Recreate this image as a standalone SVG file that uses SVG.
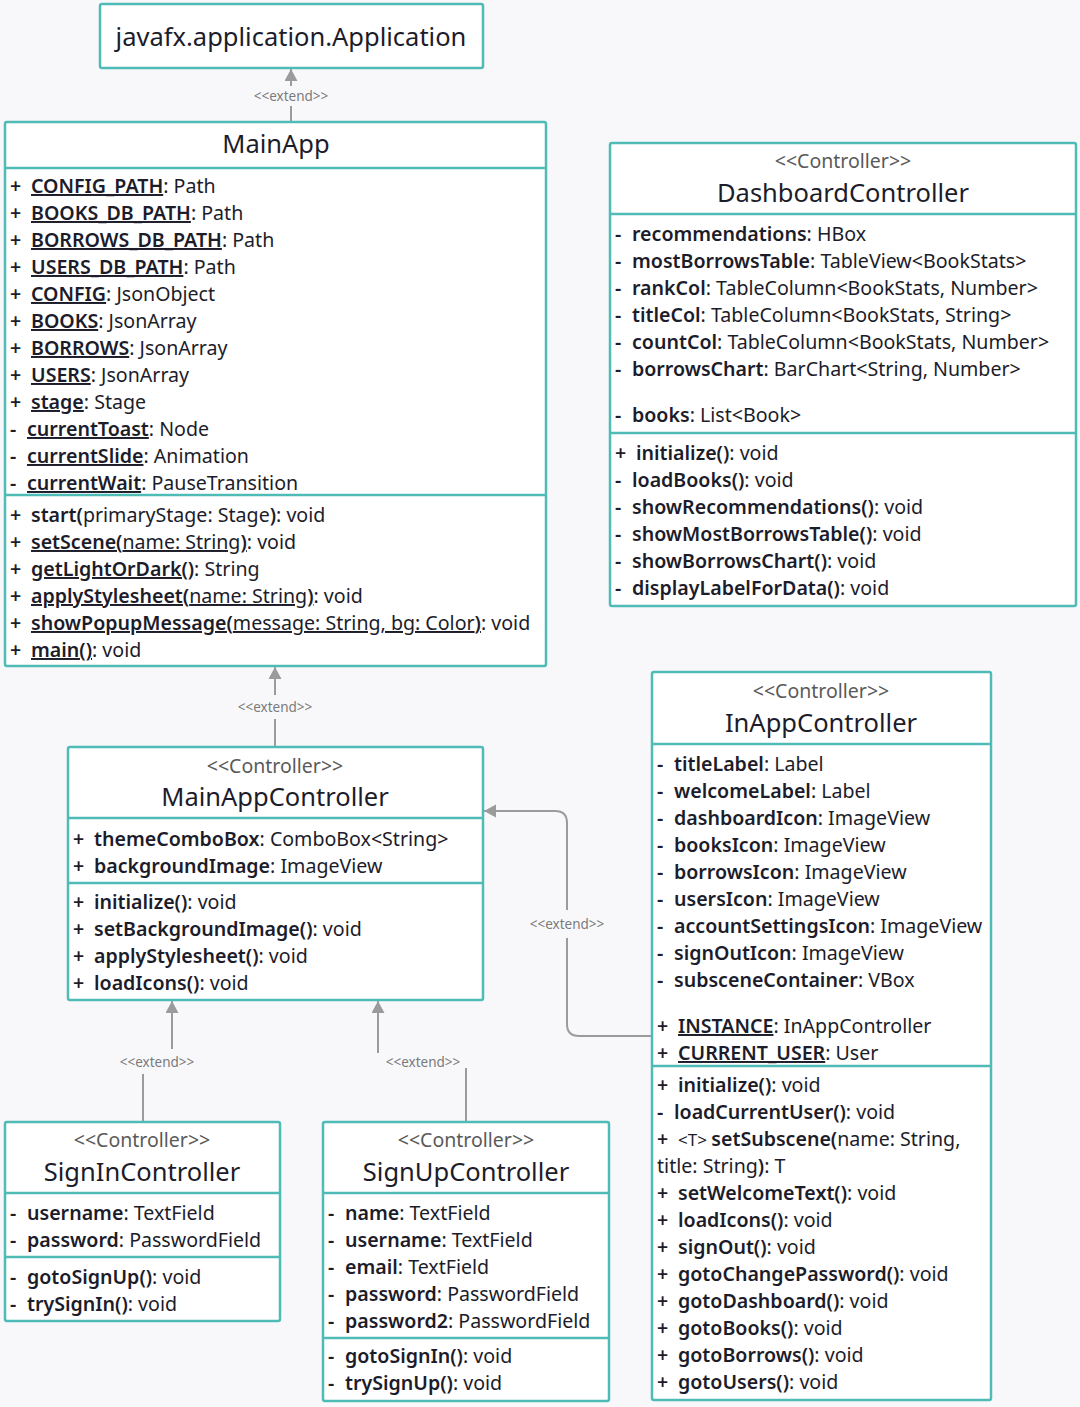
<svg xmlns="http://www.w3.org/2000/svg" width="1080" height="1407" viewBox="0 0 1080 1407">
  <defs>
    <marker id="arrow" markerWidth="14" markerHeight="14" refX="12" refY="6.5" orient="auto" markerUnits="userSpaceOnUse">
      <path d="M0,0 L12,6.5 L0,13 Z" fill="#9b9b9b"/>
    </marker>
  </defs>
  <style>
    .bg { fill: #f8f8fa; }
    .box { fill: #ffffff; stroke: #4fbbb6; stroke-width: 2.5; }
    .sep { stroke: #4fbbb6; stroke-width: 2.5; }
    text { font-family: "Noto Sans", "Open Sans", sans-serif; fill: #1c1c2a; }
    .title { font-size: 25.5px; text-anchor: middle; }
    .st { font-size: 19.5px; fill: #5a5a5a; text-anchor: middle; }
    .m { font-size: 19.6px; }
    .b { font-weight: 600; }
    .conn { stroke: #9b9b9b; stroke-width: 2; fill: none; }
    .lblbg { fill: #f8f8fa; }
    .lbl { font-size: 13.5px; fill: #7a7a7a; text-anchor: middle; }
  </style>

  <rect class="bg" x="0" y="0" width="1080" height="1407"/>

  <!-- connectors -->
  <g id="connectors">
    <path class="conn" d="M291 122 V69" marker-end="url(#arrow)"/>
    <rect class="lblbg" x="246" y="86" width="90" height="20"/>
    <text class="lbl" x="291" y="101">&lt;&lt;extend&gt;&gt;</text>

    <path class="conn" d="M275 747 V667" marker-end="url(#arrow)"/>
    <rect class="lblbg" x="230" y="695" width="90" height="24"/>
    <text class="lbl" x="275" y="712">&lt;&lt;extend&gt;&gt;</text>

    <path class="conn" d="M652 1036 H579 Q567 1036 567 1024 V823 Q567 811 555 811 H484" marker-end="url(#arrow)"/>
    <rect class="lblbg" x="522" y="910" width="90" height="28"/>
    <text class="lbl" x="567" y="929">&lt;&lt;extend&gt;&gt;</text>

    <path class="conn" d="M143 1122 V1063 H172 V1001" marker-end="url(#arrow)"/>
    <rect class="lblbg" x="114" y="1049" width="88" height="25"/>
    <text class="lbl" x="157" y="1067">&lt;&lt;extend&gt;&gt;</text>

    <path class="conn" d="M466 1122 V1063 H378 V1001" marker-end="url(#arrow)"/>
    <rect class="lblbg" x="374" y="1053" width="96" height="15"/>
    <text class="lbl" x="423" y="1067">&lt;&lt;extend&gt;&gt;</text>
  </g>

  <!-- javafx.application.Application -->
  <g id="application">
    <rect class="box" x="100" y="4" width="383" height="64" rx="2"/>
    <text class="title" x="291" y="46">javafx.application.Application</text>
  </g>

  <!-- MainApp -->
  <g id="mainapp">
    <rect class="box" x="5" y="122" width="541" height="544" rx="2"/>
    <line class="sep" x1="5" y1="168" x2="546" y2="168"/>
    <line class="sep" x1="5" y1="495" x2="546" y2="495"/>
    <text class="title" x="276" y="153">MainApp</text>
    <g class="m">
      <text x="10" y="193"><tspan class="b">+</tspan><tspan x="31" class="b" text-decoration="underline">CONFIG_PATH</tspan>: Path</text>
      <text x="10" y="220"><tspan class="b">+</tspan><tspan x="31" class="b" text-decoration="underline">BOOKS_DB_PATH</tspan>: Path</text>
      <text x="10" y="247"><tspan class="b">+</tspan><tspan x="31" class="b" text-decoration="underline">BORROWS_DB_PATH</tspan>: Path</text>
      <text x="10" y="274"><tspan class="b">+</tspan><tspan x="31" class="b" text-decoration="underline">USERS_DB_PATH</tspan>: Path</text>
      <text x="10" y="301"><tspan class="b">+</tspan><tspan x="31" class="b" text-decoration="underline">CONFIG</tspan>: JsonObject</text>
      <text x="10" y="328"><tspan class="b">+</tspan><tspan x="31" class="b" text-decoration="underline">BOOKS</tspan>: JsonArray</text>
      <text x="10" y="355"><tspan class="b">+</tspan><tspan x="31" class="b" text-decoration="underline">BORROWS</tspan>: JsonArray</text>
      <text x="10" y="382"><tspan class="b">+</tspan><tspan x="31" class="b" text-decoration="underline">USERS</tspan>: JsonArray</text>
      <text x="10" y="409"><tspan class="b">+</tspan><tspan x="31" class="b" text-decoration="underline">stage</tspan>: Stage</text>
      <text x="10" y="436"><tspan class="b">-</tspan><tspan x="27" class="b" text-decoration="underline">currentToast</tspan>: Node</text>
      <text x="10" y="463"><tspan class="b">-</tspan><tspan x="27" class="b" text-decoration="underline">currentSlide</tspan>: Animation</text>
      <text x="10" y="490"><tspan class="b">-</tspan><tspan x="27" class="b" text-decoration="underline">currentWait</tspan>: PauseTransition</text>

      <text x="10" y="522"><tspan class="b">+</tspan><tspan x="31" class="b">start(</tspan>primaryStage: Stage<tspan class="b">)</tspan>: void</text>
      <text x="10" y="549"><tspan class="b">+</tspan><tspan x="31" text-decoration="underline"><tspan class="b">setScene(</tspan>name: String<tspan class="b">)</tspan></tspan>: void</text>
      <text x="10" y="576"><tspan class="b">+</tspan><tspan x="31" class="b" text-decoration="underline">getLightOrDark()</tspan>: String</text>
      <text x="10" y="603"><tspan class="b">+</tspan><tspan x="31" text-decoration="underline"><tspan class="b">applyStylesheet(</tspan>name: String<tspan class="b">)</tspan></tspan>: void</text>
      <text x="10" y="630"><tspan class="b">+</tspan><tspan x="31" text-decoration="underline"><tspan class="b">showPopupMessage(</tspan>message: String, bg: Color<tspan class="b">)</tspan></tspan>: void</text>
      <text x="10" y="657"><tspan class="b">+</tspan><tspan x="31" class="b" text-decoration="underline">main()</tspan>: void</text>
    </g>
  </g>

  <!-- DashboardController -->
  <g id="dashboard-controller">
    <rect class="box" x="610" y="143" width="466" height="463" rx="2"/>
    <line class="sep" x1="610" y1="214" x2="1076" y2="214"/>
    <line class="sep" x1="610" y1="433" x2="1076" y2="433"/>
    <text class="st" x="843" y="168">&lt;&lt;Controller&gt;&gt;</text>
    <text class="title" x="843" y="202">DashboardController</text>
    <g class="m">
      <text x="615" y="241"><tspan class="b">-</tspan><tspan x="632" class="b">recommendations</tspan>: HBox</text>
      <text x="615" y="268"><tspan class="b">-</tspan><tspan x="632" class="b">mostBorrowsTable</tspan>: TableView&lt;BookStats&gt;</text>
      <text x="615" y="295"><tspan class="b">-</tspan><tspan x="632" class="b">rankCol</tspan>: TableColumn&lt;BookStats, Number&gt;</text>
      <text x="615" y="322"><tspan class="b">-</tspan><tspan x="632" class="b">titleCol</tspan>: TableColumn&lt;BookStats, String&gt;</text>
      <text x="615" y="349"><tspan class="b">-</tspan><tspan x="632" class="b">countCol</tspan>: TableColumn&lt;BookStats, Number&gt;</text>
      <text x="615" y="376"><tspan class="b">-</tspan><tspan x="632" class="b">borrowsChart</tspan>: BarChart&lt;String, Number&gt;</text>
      <text x="615" y="422"><tspan class="b">-</tspan><tspan x="632" class="b">books</tspan>: List&lt;Book&gt;</text>

      <text x="615" y="460"><tspan class="b">+</tspan><tspan x="636" class="b">initialize()</tspan>: void</text>
      <text x="615" y="487"><tspan class="b">-</tspan><tspan x="632" class="b">loadBooks()</tspan>: void</text>
      <text x="615" y="514"><tspan class="b">-</tspan><tspan x="632" class="b">showRecommendations()</tspan>: void</text>
      <text x="615" y="541"><tspan class="b">-</tspan><tspan x="632" class="b">showMostBorrowsTable()</tspan>: void</text>
      <text x="615" y="568"><tspan class="b">-</tspan><tspan x="632" class="b">showBorrowsChart()</tspan>: void</text>
      <text x="615" y="595"><tspan class="b">-</tspan><tspan x="632" class="b">displayLabelForData()</tspan>: void</text>
    </g>
  </g>

  <!-- MainAppController -->
  <g id="mainapp-controller">
    <rect class="box" x="68" y="747" width="415" height="253" rx="2"/>
    <line class="sep" x1="68" y1="818" x2="483" y2="818"/>
    <line class="sep" x1="68" y1="883" x2="483" y2="883"/>
    <text class="st" x="275" y="773">&lt;&lt;Controller&gt;&gt;</text>
    <text class="title" x="275" y="806">MainAppController</text>
    <g class="m">
      <text x="73" y="846"><tspan class="b">+</tspan><tspan x="94" class="b">themeComboBox</tspan>: ComboBox&lt;String&gt;</text>
      <text x="73" y="873"><tspan class="b">+</tspan><tspan x="94" class="b">backgroundImage</tspan>: ImageView</text>
      <text x="73" y="909"><tspan class="b">+</tspan><tspan x="94" class="b">initialize()</tspan>: void</text>
      <text x="73" y="936"><tspan class="b">+</tspan><tspan x="94" class="b">setBackgroundImage()</tspan>: void</text>
      <text x="73" y="963"><tspan class="b">+</tspan><tspan x="94" class="b">applyStylesheet()</tspan>: void</text>
      <text x="73" y="990"><tspan class="b">+</tspan><tspan x="94" class="b">loadIcons()</tspan>: void</text>
    </g>
  </g>

  <!-- InAppController -->
  <g id="inapp-controller">
    <rect class="box" x="652" y="672" width="339" height="728" rx="2"/>
    <line class="sep" x1="652" y1="744" x2="991" y2="744"/>
    <line class="sep" x1="652" y1="1066" x2="991" y2="1066"/>
    <text class="st" x="821" y="698">&lt;&lt;Controller&gt;&gt;</text>
    <text class="title" x="821" y="732">InAppController</text>
    <g class="m">
      <text x="657" y="771"><tspan class="b">-</tspan><tspan x="674" class="b">titleLabel</tspan>: Label</text>
      <text x="657" y="798"><tspan class="b">-</tspan><tspan x="674" class="b">welcomeLabel</tspan>: Label</text>
      <text x="657" y="825"><tspan class="b">-</tspan><tspan x="674" class="b">dashboardIcon</tspan>: ImageView</text>
      <text x="657" y="852"><tspan class="b">-</tspan><tspan x="674" class="b">booksIcon</tspan>: ImageView</text>
      <text x="657" y="879"><tspan class="b">-</tspan><tspan x="674" class="b">borrowsIcon</tspan>: ImageView</text>
      <text x="657" y="906"><tspan class="b">-</tspan><tspan x="674" class="b">usersIcon</tspan>: ImageView</text>
      <text x="657" y="933"><tspan class="b">-</tspan><tspan x="674" class="b">accountSettingsIcon</tspan>: ImageView</text>
      <text x="657" y="960"><tspan class="b">-</tspan><tspan x="674" class="b">signOutIcon</tspan>: ImageView</text>
      <text x="657" y="987"><tspan class="b">-</tspan><tspan x="674" class="b">subsceneContainer</tspan>: VBox</text>
      <text x="657" y="1033"><tspan class="b">+</tspan><tspan x="678" class="b" text-decoration="underline">INSTANCE</tspan>: InAppController</text>
      <text x="657" y="1060"><tspan class="b">+</tspan><tspan x="678" class="b" text-decoration="underline">CURRENT_USER</tspan>: User</text>

      <text x="657" y="1092"><tspan class="b">+</tspan><tspan x="678" class="b">initialize()</tspan>: void</text>
      <text x="657" y="1119"><tspan class="b">-</tspan><tspan x="674" class="b">loadCurrentUser()</tspan>: void</text>
      <text x="657" y="1146"><tspan class="b">+</tspan><tspan x="678" font-size="17">&lt;T&gt; </tspan><tspan class="b">setSubscene(</tspan>name: String,</text>
      <text x="657" y="1173">title: String<tspan class="b">)</tspan>: T</text>
      <text x="657" y="1200"><tspan class="b">+</tspan><tspan x="678" class="b">setWelcomeText()</tspan>: void</text>
      <text x="657" y="1227"><tspan class="b">+</tspan><tspan x="678" class="b">loadIcons()</tspan>: void</text>
      <text x="657" y="1254"><tspan class="b">+</tspan><tspan x="678" class="b">signOut()</tspan>: void</text>
      <text x="657" y="1281"><tspan class="b">+</tspan><tspan x="678" class="b">gotoChangePassword()</tspan>: void</text>
      <text x="657" y="1308"><tspan class="b">+</tspan><tspan x="678" class="b">gotoDashboard()</tspan>: void</text>
      <text x="657" y="1335"><tspan class="b">+</tspan><tspan x="678" class="b">gotoBooks()</tspan>: void</text>
      <text x="657" y="1362"><tspan class="b">+</tspan><tspan x="678" class="b">gotoBorrows()</tspan>: void</text>
      <text x="657" y="1389"><tspan class="b">+</tspan><tspan x="678" class="b">gotoUsers()</tspan>: void</text>
    </g>
  </g>

  <!-- SignInController -->
  <g id="signin-controller">
    <rect class="box" x="5" y="1122" width="275" height="199" rx="2"/>
    <line class="sep" x1="5" y1="1193" x2="280" y2="1193"/>
    <line class="sep" x1="5" y1="1257" x2="280" y2="1257"/>
    <text class="st" x="142" y="1147">&lt;&lt;Controller&gt;&gt;</text>
    <text class="title" x="142" y="1181">SignInController</text>
    <g class="m">
      <text x="10" y="1220"><tspan class="b">-</tspan><tspan x="27" class="b">username</tspan>: TextField</text>
      <text x="10" y="1247"><tspan class="b">-</tspan><tspan x="27" class="b">password</tspan>: PasswordField</text>
      <text x="10" y="1284"><tspan class="b">-</tspan><tspan x="27" class="b">gotoSignUp()</tspan>: void</text>
      <text x="10" y="1311"><tspan class="b">-</tspan><tspan x="27" class="b">trySignIn()</tspan>: void</text>
    </g>
  </g>

  <!-- SignUpController -->
  <g id="signup-controller">
    <rect class="box" x="323" y="1122" width="286" height="279" rx="2"/>
    <line class="sep" x1="323" y1="1193" x2="609" y2="1193"/>
    <line class="sep" x1="323" y1="1338" x2="609" y2="1338"/>
    <text class="st" x="466" y="1147">&lt;&lt;Controller&gt;&gt;</text>
    <text class="title" x="466" y="1181">SignUpController</text>
    <g class="m">
      <text x="328" y="1220"><tspan class="b">-</tspan><tspan x="345" class="b">name</tspan>: TextField</text>
      <text x="328" y="1247"><tspan class="b">-</tspan><tspan x="345" class="b">username</tspan>: TextField</text>
      <text x="328" y="1274"><tspan class="b">-</tspan><tspan x="345" class="b">email</tspan>: TextField</text>
      <text x="328" y="1301"><tspan class="b">-</tspan><tspan x="345" class="b">password</tspan>: PasswordField</text>
      <text x="328" y="1328"><tspan class="b">-</tspan><tspan x="345" class="b">password2</tspan>: PasswordField</text>
      <text x="328" y="1363"><tspan class="b">-</tspan><tspan x="345" class="b">gotoSignIn()</tspan>: void</text>
      <text x="328" y="1390"><tspan class="b">-</tspan><tspan x="345" class="b">trySignUp()</tspan>: void</text>
    </g>
  </g>
</svg>
